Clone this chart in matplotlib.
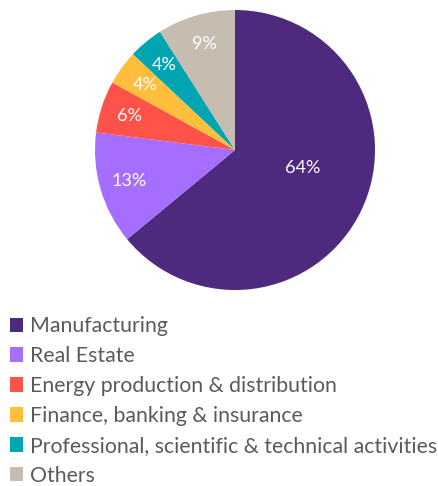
import matplotlib
matplotlib.use("Agg")
import matplotlib.pyplot as plt
import numpy as np

sectors = ["Manufacturing", "Real Estate", "Energy production & distribution",
           "Finance, banking & insurance",
           "Professional, scientific & technical activities", "Others"]
shares = [64, 13, 6, 4, 4, 9]
colors = ["#4E2A7E", "#A56EFF", "#FF5248", "#FFBF3C", "#00A5B1", "#C6BDB0"]

plt.rcParams["font.family"] = ["Lato", "DejaVu Sans"]

fig = plt.figure(figsize=(4.39, 4.86), dpi=100)
W, H = 439, 486
cx, cy, r = 235, 150, 140
ax = fig.add_axes([(cx - r) / W, 1 - (cy + r) / H, 2 * r / W, 2 * r / H])

wedges, texts, autotexts = ax.pie(
    shares, colors=colors, startangle=90, counterclock=False,
    autopct="%d%%", pctdistance=0.79, radius=1,
    wedgeprops=dict(linewidth=0),
    textprops=dict(color="white", fontsize=13))
ax.set_xlim(-1, 1)
ax.set_ylim(-1, 1)
ax.set_aspect("equal")

# the large slice's label sits closer to the centre
ang = np.deg2rad(-15)
autotexts[0].set_position((0.5 * np.cos(ang), 0.5 * np.sin(ang)))

leg = fig.legend(wedges, sectors, loc="upper left",
                 bbox_to_anchor=(0.022, 1 - 316 / H), frameon=False,
                 labelcolor="#5a5a5a", handlelength=0.64,
                 handleheight=0.64, handletextpad=0.33, labelspacing=0.47,
                 borderaxespad=0, borderpad=0,
                 prop=dict(size=15.3))

fig.savefig("out.png", dpi=100)
